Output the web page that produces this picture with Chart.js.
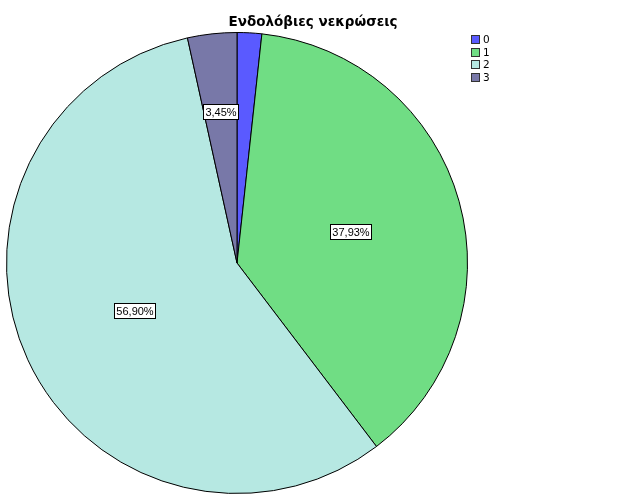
<!DOCTYPE html>
<html>
<head>
<meta charset="utf-8">
<script src="https://cdn.jsdelivr.net/npm/chart.js@4.4.0/dist/chart.umd.min.js"></script>
<style>
  html, body { margin: 0; padding: 0; background: #fff; }
  #wrap { width: 626px; height: 501px; }
</style>
</head>
<body>
<div id="wrap"><canvas id="pieChart" width="626" height="501"></canvas></div>
<script>
// ------------ΕΝΔΟΛΟΒΙΕΣ ΝΕΚΡΩΣΕΙΣ PIE------------------ //

var chartTitle = "Ενδολόβιες νεκρώσεις";
var categories = ["0", "1", "2", "3"];
var counts = [1, 22, 33, 2];
var sliceColors = ["#5a5aff", "#70dd84", "#b6e8e2", "#7878a8"];

var total = counts.reduce(function (a, b) { return a + b; }, 0);

// how far out (fraction of radius) each percent box sits; null = no box
var labelRadius = [null, 0.51, 0.49, 0.66];

function pctText(v) {
    return (v / total * 100).toFixed(2).replace('.', ',') + '%';
}

var extras = {
    id: 'extras',
    afterDatasetsDraw: function (chart) {
        var ctx = chart.ctx;
        var arcs = chart.getDatasetMeta(0).data;
        ctx.save();

        // title, centred on the whole canvas
        ctx.fillStyle = '#000';
        ctx.textAlign = 'center';
        ctx.textBaseline = 'alphabetic';
        ctx.font = 'bold 13.5px "DejaVu Sans", sans-serif';
        ctx.fillText(chartTitle, chart.width / 2, 26);

        // percent boxes
        ctx.font = '11px "Liberation Sans", Arial, sans-serif';
        ctx.textBaseline = 'middle';
        arcs.forEach(function (arc, i) {
            if (labelRadius[i] === null) return;
            var p = arc.getProps(['x', 'y', 'startAngle', 'endAngle', 'outerRadius'], true);
            var mid = (p.startAngle + p.endAngle) / 2;
            var r = p.outerRadius * labelRadius[i];
            var x = p.x + Math.cos(mid) * r;
            var y = p.y + Math.sin(mid) * r;
            var txt = pctText(counts[i]);
            var w = Math.round(ctx.measureText(txt).width + 4);
            var h = 15;
            var bx = Math.round(x - w / 2) + 0.5;
            var by = Math.round(y - h / 2) + 0.5;
            ctx.fillStyle = '#fff';
            ctx.fillRect(bx, by, w, h);
            ctx.strokeStyle = '#000';
            ctx.lineWidth = 1;
            ctx.strokeRect(bx, by, w, h);
            ctx.fillStyle = '#000';
            ctx.fillText(txt, bx + w / 2, by + h / 2 + 0.5);
        });

        // legend at upper right
        ctx.textAlign = 'left';
        ctx.font = '10.5px "DejaVu Sans", sans-serif';
        categories.forEach(function (c, i) {
            var top = Math.round(35 + i * 12.5);
            ctx.fillStyle = sliceColors[i];
            ctx.fillRect(471.5, top + 0.5, 8, 8);
            ctx.strokeStyle = '#333';
            ctx.strokeRect(471.5, top + 0.5, 8, 8);
            ctx.fillStyle = '#000';
            ctx.fillText(c, 483, top + 5);
        });
        ctx.restore();
    }
};

new Chart("pieChart", {
    type: "pie",
    data: {
        labels: categories,
        datasets: [{
            data: counts,
            backgroundColor: sliceColors,
            borderColor: '#000',
            borderWidth: 1
        }]
    },
    options: {
        responsive: false,
        animation: false,
        devicePixelRatio: 1,
        layout: { padding: { left: 6, right: 158, top: 32, bottom: 7 } },
        plugins: {
            legend: { display: false },
            tooltip: { enabled: false },
            title: { display: false }
        }
    },
    plugins: [extras]
});
</script>
</body>
</html>
